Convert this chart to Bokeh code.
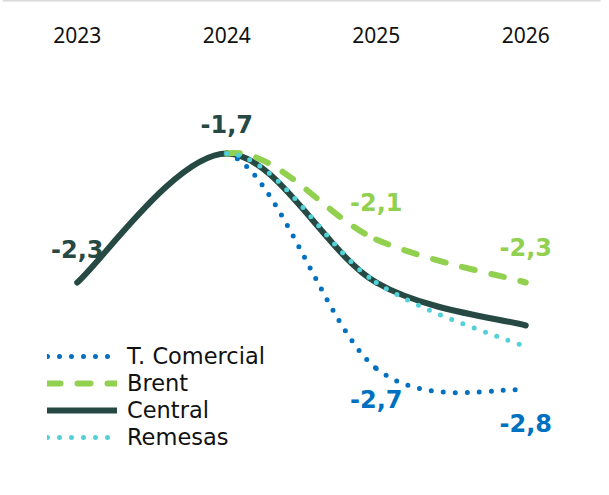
from bokeh.plotting import figure
from bokeh.models import (ColumnDataSource, FixedTicker, LinearAxis, Range1d,
                          Legend, LegendItem)
from bokeh.embed import file_html
from bokeh.resources import INLINE
from bokeh.core.properties import value

# Annual values; every scenario shares the 2023-2024 history with the central path
years = [2023, 2024, 2025, 2026]
year_labels = ["2023", "2024", "2025", "2026"]
central = [-2.3, -1.7, -2.3, -2.5]
t_comercial = [-2.3, -1.7, -2.7, -2.8]
brent = [-2.3, -1.7, -2.1, -2.3]
remesas = [-2.3, -1.7, -2.3, -2.6]

DARK = "#264a43"
GREEN = "#92d050"
BLUE = "#0070c0"
CYAN = "#52d2d8"


def smooth_segments(xs, ys, first=0):
    """Cubic Bezier segments of a smoothed line through (xs, ys)."""
    n = len(xs)
    d = dict(x0=[], y0=[], x1=[], y1=[], cx0=[], cy0=[], cx1=[], cy1=[])
    for i in range(first, n - 1):
        a = i - 1 if i > 0 else i
        b = i + 2 if i + 2 < n else i + 1
        d["x0"].append(xs[i]); d["y0"].append(ys[i])
        d["x1"].append(xs[i + 1]); d["y1"].append(ys[i + 1])
        d["cx0"].append(xs[i] + (xs[i + 1] - xs[a]) / 6)
        d["cy0"].append(ys[i] + (ys[i + 1] - ys[a]) / 6)
        d["cx1"].append(xs[i + 1] - (xs[b] - xs[i]) / 6)
        d["cy1"].append(ys[i + 1] - (ys[b] - ys[i]) / 6)
    return ColumnDataSource(d)


p = figure(width=609, height=495, output_backend="svg", toolbar_location=None,
           x_range=Range1d(2022.5, 2026.5), y_range=Range1d(-3.2907, -1.2442),
           x_axis_location="above", y_axis_location=None,
           min_border_left=2, min_border_right=9, min_border_bottom=0,
           min_border_top=6)
p.outline_line_color = None
p.grid.visible = False
p.background_fill_color = "white"
p.border_fill_color = "white"

# year axis along the top
xa = p.xaxis[0]
xa.ticker = FixedTicker(ticks=years)
xa.major_label_overrides = {y: s for y, s in zip(years, year_labels)}
xa.major_label_text_font = "Noto Sans"
xa.major_label_text_font_size = "21px"
xa.major_label_text_color = "#111111"
xa.major_label_standoff = 13
xa.axis_line_color = None
xa.major_tick_line_color = None
xa.minor_tick_line_color = None
xa.major_tick_out = 0
xa.major_tick_in = 0
xa.axis_label = " "
xa.axis_label_text_font_size = "18px"
xa.axis_label_standoff = 0

# thin grey rule at the very top
rule = LinearAxis(ticker=FixedTicker(ticks=[2024]), axis_line_color="#d9d9d9",
                  axis_line_width=2, major_tick_line_color=None,
                  minor_tick_line_color=None, major_tick_out=0, major_tick_in=0,
                  minor_tick_out=0, minor_tick_in=0, major_label_standoff=0,
                  major_label_text_font_size="1px",
                  major_label_text_color=None)
p.add_layout(rule, "above")

# value labels
lab_x = [years[0], years[1], years[2], years[3], years[2], years[3]]
lab_y = [central[0], central[1], brent[2], brent[3], t_comercial[2], t_comercial[3]]
lab_txt = [f"{v:.1f}".replace(".", ",") for v in lab_y]
lab_col = [DARK, DARK, GREEN, GREEN, BLUE, BLUE]
lab_off = [-33, -29, -37, -35, 31, 33]
labels = ColumnDataSource(dict(x=lab_x, y=lab_y, text=lab_txt, color=lab_col, off=lab_off))
p.text(x="x", y="y", text="text", source=labels, y_offset="off",
       text_color="color", text_font=value("DejaVu Sans"), text_font_style="bold",
       text_font_size="24px", text_align="center", text_baseline="alphabetic")

r_central = p.bezier(x0="x0", y0="y0", x1="x1", y1="y1", cx0="cx0", cy0="cy0",
                     cx1="cx1", cy1="cy1", source=smooth_segments(years, central),
                     line_color=DARK, line_width=6, line_cap="round")
r_brent = p.bezier(x0="x0", y0="y0", x1="x1", y1="y1", cx0="cx0", cy0="cy0",
                   cx1="cx1", cy1="cy1", source=smooth_segments(years, brent, 1),
                   line_color=GREEN, line_width=6, line_dash="13 17", line_cap="round")
r_tc = p.bezier(x0="x0", y0="y0", x1="x1", y1="y1", cx0="cx0", cy0="cy0",
                cx1="cx1", cy1="cy1", source=smooth_segments(years, t_comercial, 1),
                line_color=BLUE, line_width=5, line_dash="0 12", line_cap="round")
r_rem = p.bezier(x0="x0", y0="y0", x1="x1", y1="y1", cx0="cx0", cy0="cy0",
                 cx1="cx1", cy1="cy1", source=smooth_segments(years, remesas, 1),
                 line_color=CYAN, line_width=5, line_dash="0 12", line_cap="round")

legend = Legend(items=[LegendItem(label="T. Comercial", renderers=[r_tc]),
                       LegendItem(label="Brent", renderers=[r_brent]),
                       LegendItem(label="Central", renderers=[r_central]),
                       LegendItem(label="Remesas", renderers=[r_rem])],
                location=(45, 45), glyph_width=70, glyph_height=20,
                label_standoff=10, spacing=1, padding=0, margin=0,
                label_text_font="DejaVu Sans", label_text_font_size="22.5px",
                label_text_color="#111111",
                border_line_color=None, background_fill_alpha=0)
p.add_layout(legend)

open("out.html", "w").write(file_html(p, INLINE))
